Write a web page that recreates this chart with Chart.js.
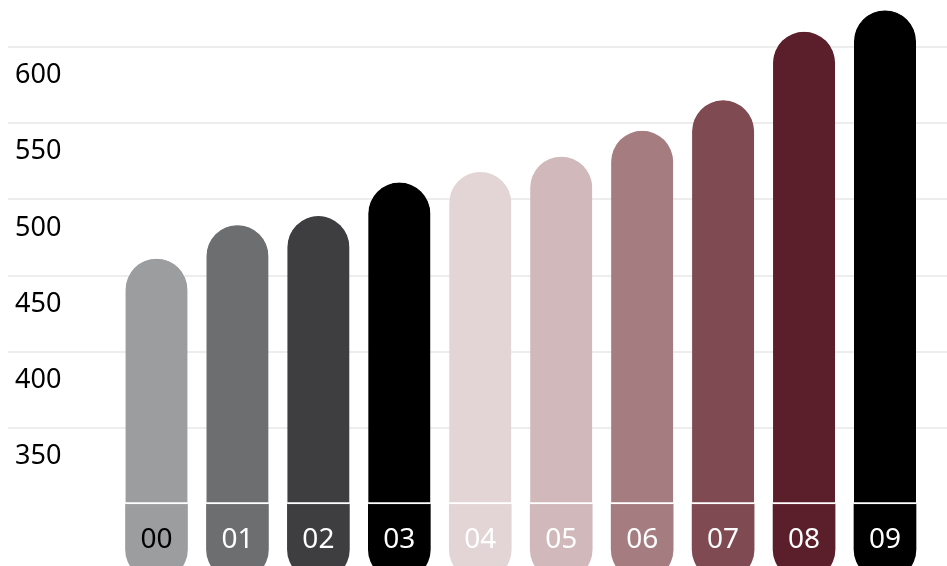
<!DOCTYPE html>
<html>
<head>
<meta charset="utf-8">
<script src="https://cdn.jsdelivr.net/npm/chart.js@4/dist/chart.umd.min.js"></script>
<style>
  html, body { margin: 0; padding: 0; background: #fff; }
  #wrap { width: 947px; height: 566px; position: relative; }
</style>
</head>
<body>
<div id="wrap"><canvas id="barChart"></canvas></div>
<script>
// chart data
const categories = ['00', '01', '02', '03', '04', '05', '06', '07', '08', '09'];
const values = [461, 483, 489, 511, 518, 528, 545, 565, 610, 624];
const baseValue = 300;   // white separator line
const labelFloor = 250;  // bottom of the label part of each bar
const yTicks = [350, 400, 450, 500, 550, 600];
const barColors = ['#9c9d9f', '#6d6e70', '#3e3e40', '#000000', '#e3d5d6',
                   '#d1b9bb', '#a57d81', '#7f4a52', '#5b1f2b', '#000000'];
const labelColors = ['#000000', '#ffffff', '#ffffff', '#ffffff', '#ffffff',
                     '#ffffff', '#ffffff', '#ffffff', '#ffffff', '#ffffff'];

const FONT = '"Noto Sans", "Open Sans", sans-serif';

const barChart = new Chart(document.getElementById('barChart').getContext('2d'), {
  type: 'bar',
  data: {
    datasets: [{
      label: 'value',
      data: values.map((v, i) => ({ x: i, y: [baseValue, v] })),
      backgroundColor: barColors,
      borderColor: '#ffffff',
      borderWidth: { top: 0, left: 0, right: 0, bottom: 2 },
      borderSkipped: false,
      borderRadius: { topLeft: 31, topRight: 31, bottomLeft: 0, bottomRight: 0 },
      barThickness: 62,
      grouped: false,
      clip: false
    }, {
      label: 'label',
      data: values.map((v, i) => ({ x: i, y: [labelFloor, baseValue] })),
      backgroundColor: barColors,
      borderWidth: 0,
      borderSkipped: false,
      borderRadius: { topLeft: 0, topRight: 0, bottomLeft: 31, bottomRight: 31 },
      barThickness: 62,
      grouped: false,
      clip: false
    }]
  },
  options: {
    responsive: true,
    maintainAspectRatio: false,
    animation: false,
    layout: {
      padding: { top: 47, left: 0, right: 0, bottom: 0 }
    },
    plugins: {
      legend: { display: false },
      tooltip: { enabled: false }
    },
    scales: {
      x: {
        type: 'linear',
        offset: false,
        min: -1.8346,
        max: 9.766,
        afterBuildTicks: (s) => { s.ticks = categories.map((c, i) => ({ value: i })); },
        afterFit: (s) => { s.height = 62; },
        grid: { display: false, offset: false },
        border: { display: false },
        ticks: {
          z: 1,
          padding: 11,
          maxRotation: 0,
          autoSkip: false,
          font: { family: FONT, size: 28 },
          color: (ctx) => labelColors[ctx.index],
          callback: (value) => categories[value]
        }
      },
      y: {
        min: baseValue,
        max: 600,
        afterBuildTicks: (s) => { s.ticks = yTicks.map(v => ({ value: v })); },
        afterFit: (s) => { s.width = 8; },
        grid: { color: '#ededed', lineWidth: 2, drawTicks: false },
        border: { display: false },
        ticks: {
          mirror: true,
          padding: 7,
          labelOffset: 28.5,
          font: { family: FONT, size: 27 },
          color: '#000000'
        }
      }
    }
  }
});
</script>
</body>
</html>
